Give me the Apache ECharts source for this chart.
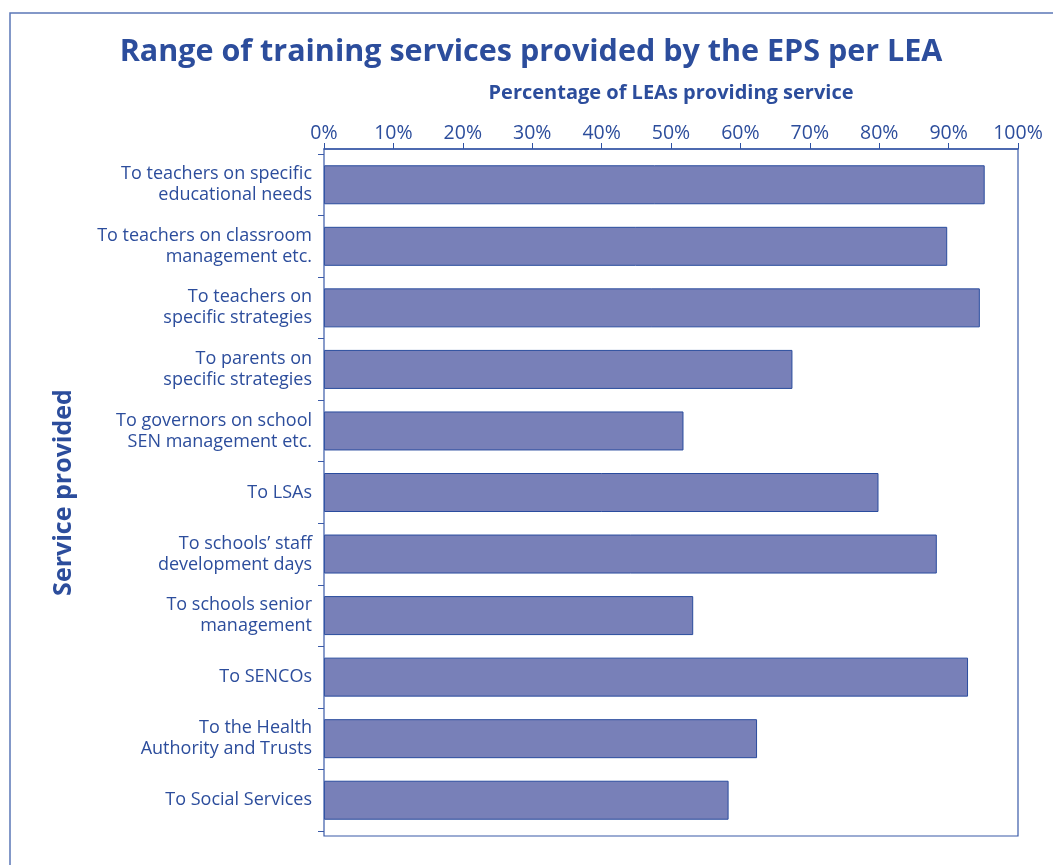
<!DOCTYPE html>
<html>
<head>
<meta charset="utf-8">
<script src="https://cdn.jsdelivr.net/npm/echarts@6/dist/echarts.min.js"></script>
<style>
  html, body { margin: 0; padding: 0; background: #fff; }
  #chart { width: 1053px; height: 865px; }
</style>
</head>
<body>
<div id="chart"></div>
<script>
// services, top to bottom
const services = [
  'To teachers on specific\neducational needs',
  'To teachers on classroom\nmanagement etc.',
  'To teachers on\nspecific strategies',
  'To parents on\nspecific strategies',
  'To governors on school\nSEN management etc.',
  'To LSAs',
  'To schools\u2019 staff\ndevelopment days',
  'To schools senior\nmanagement',
  'To SENCOs',
  'To the Health\nAuthority and Trusts',
  'To Social Services'
];
// percentage of LEAs providing each service
const percentages = [95.2, 89.8, 94.5, 67.5, 51.8, 79.9, 88.3, 53.2, 92.8, 62.4, 58.3];
const tickValues = [0, 10, 20, 30, 40, 50, 60, 70, 80, 90, 100];

const blue = '#2c4d9c';
const font = '"Open Sans", Lato, sans-serif';

// plot box (frame of the grid)
const gridLeft = 324, gridRight = 35, gridTop = 154, gridBottom = 34;
const boxTop = 149, boxBottom = 836;

const chart = echarts.init(document.getElementById('chart'));
const option = {
  animation: false,
  textStyle: { fontFamily: font },
  title: {
    text: 'Range of training services provided by the EPS per LEA',
    left: 526,
    top: 32,
    textAlign: 'center',
    textStyle: { color: blue, fontSize: 30.5, fontWeight: 'bold', fontFamily: font }
  },
  graphic: [
    {
      type: 'rect',
      shape: { x: 10, y: 13, width: 1100, height: 900 },
      style: { fill: 'none', stroke: '#5b77b6', lineWidth: 1.5 },
      silent: true
    },
    {
      type: 'rect',
      z: 10,
      shape: { x: gridLeft, y: boxTop, width: 1053 - gridLeft - gridRight, height: boxBottom - boxTop },
      style: { fill: 'none', stroke: '#3a5aa8', lineWidth: 1.2 },
      silent: true
    },
    {
      type: 'text',
      x: 671,
      y: 93,
      style: {
        text: 'Percentage of LEAs providing service',
        fill: blue,
        font: 'bold 20px ' + font,
        textAlign: 'center',
        textVerticalAlign: 'middle'
      }
    }
  ],
  grid: {
    left: gridLeft,
    right: gridRight,
    top: gridTop,
    bottom: gridBottom
  },
  xAxis: {
    type: 'value',
    position: 'top',
    offset: gridTop - boxTop,
    min: 0,
    max: 100,
    interval: 10,
    axisLine: { show: true, lineStyle: { color: '#2f52a3', width: 1.5 } },
    axisTick: { show: true, length: 6, lineStyle: { color: '#2f52a3' } },
    axisLabel: {
      color: blue,
      fontSize: 19.5,
      margin: 6,
      formatter: v => tickValues.includes(v) ? v + '%' : ''
    },
    splitLine: { show: false }
  },
  yAxis: {
    type: 'category',
    inverse: true,
    data: services,
    name: 'Service provided',
    nameLocation: 'middle',
    nameGap: 248,
    nameRotate: 90,
    nameTextStyle: { color: blue, fontSize: 25, fontWeight: 'bold' },
    axisLine: { show: false },
    axisTick: { show: true, length: 6, lineStyle: { color: '#3a5aa8' } },
    axisLabel: {
      color: blue,
      fontSize: 18,
      lineHeight: 21,
      margin: 12,
      align: 'right'
    }
  },
  series: [{
    type: 'bar',
    data: percentages,
    barWidth: 39,
    itemStyle: { color: '#7880b8', borderColor: '#2a4c9e', borderWidth: 1 }
  }]
};
chart.setOption(option);
</script>
</body>
</html>
